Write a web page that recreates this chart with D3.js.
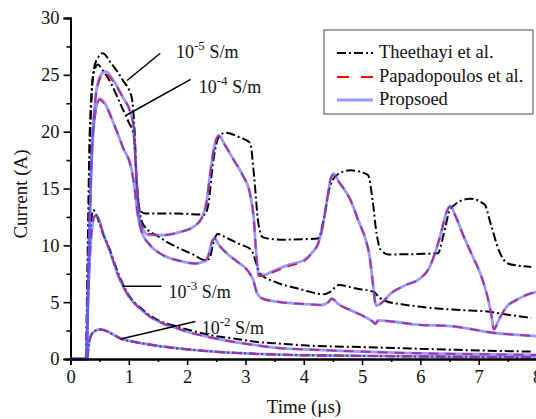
<!DOCTYPE html>
<html><head><meta charset="utf-8">
<script src="https://cdn.jsdelivr.net/npm/d3@7/dist/d3.min.js"></script>
<style>body{margin:0;background:#fff}svg{display:block}svg text{font-family:"Liberation Serif","Times New Roman",Times,serif !important;fill:#111}</style>
</head><body><svg id="c" width="536" height="419" font-family="Liberation Serif"></svg>
<script>
// ---- data (time in µs, current in A) ----
const xTicks = [0,1,2,3,4,5,6,7,8];
const yTicks = [0,5,10,15,20,25,30];
const seriesNames = ["Theethayi et al.", "Papadopoulos et al.", "Propsoed"];

const theethayi5 = [[0,0],[0.27,0],[0.3,8],[0.34,20],[0.4,25.5],[0.48,26.6],[0.55,26.9],[0.7,26.0],[0.9,24.5],[1.05,23.0],[1.1,20],[1.14,15],[1.2,13.0],[1.3,12.8],[1.8,12.8],[2.3,12.7],[2.36,13.5],[2.45,17.5],[2.55,19.6],[2.65,19.9],[2.9,19.5],[3.08,19.0],[3.15,16],[3.22,12],[3.3,10.7],[3.6,10.5],[4.25,10.6],[4.35,12.5],[4.45,15.2],[4.6,16.3],[4.8,16.6],[5.1,16.2],[5.18,14],[5.25,11],[5.32,9.6],[5.45,9.2],[6.3,9.3],[6.4,11],[6.5,13.0],[6.65,13.8],[6.85,14.1],[7.1,13.6],[7.2,12],[7.35,9.5],[7.5,8.4],[7.7,8.2],[7.9,8.1]];
const theethayi4 = [[0,0],[0.26,0],[0.29,8],[0.33,20],[0.4,25.2],[0.47,25.9],[0.55,25.4],[0.7,24.2],[0.85,22.5],[1.0,20.8],[1.08,19.8],[1.13,16],[1.18,13.2],[1.25,11.8],[1.5,10.8],[1.8,9.9],[2.1,9.2],[2.3,8.7],[2.38,8.8],[2.45,10.2],[2.52,11.0],[2.7,10.6],[2.9,10.1],[3.1,9.6],[3.18,8.5],[3.25,7.5],[3.5,6.8],[3.9,6.2],[4.35,5.7],[4.45,5.9],[4.6,6.5],[4.9,6.2],[5.2,5.9],[5.3,5.4],[5.4,5.1],[5.7,4.8],[6.0,4.6],[6.4,4.4],[6.7,4.3],[7.1,4.2],[7.5,3.9],[7.9,3.6]];
const theethayi3 = [[0,0],[0.27,0],[0.3,5],[0.34,11],[0.39,13.1],[0.45,12.6],[0.55,11.1],[0.66,9.8],[0.83,7.4],[1.0,5.6],[1.2,4.5],[1.4,3.7],[1.6,3.2],[1.8,2.9],[2.0,2.6],[2.4,2.1],[2.8,1.8],[3.2,1.5],[3.6,1.35],[4.0,1.2],[5.0,1.05],[6.0,0.9],[7.0,0.75],[7.9,0.65]];
const theethayi2 = [[0,0],[0.28,0],[0.32,1.5],[0.38,2.3],[0.5,2.6],[0.6,2.5],[0.75,2.1],[0.86,1.8],[1.1,1.5],[1.5,1.15],[2.0,0.85],[2.6,0.6],[3.2,0.45],[3.6,0.38],[4.5,0.3],[5.5,0.25],[6.5,0.2],[7.5,0.17],[7.9,0.15]];

const papadopoulos5 = [[0,0],[0.27,0],[0.3,6],[0.35,16],[0.42,22.5],[0.5,24.6],[0.57,25.1],[0.75,24.3],[0.9,23.0],[1.02,21.8],[1.08,20.5],[1.12,17],[1.17,13],[1.22,11.7],[1.35,11.0],[1.6,10.9],[1.9,11.2],[2.1,11.6],[2.25,12.4],[2.33,13.7],[2.4,16.5],[2.47,18.8],[2.54,19.6],[2.65,18.8],[2.8,17.5],[2.95,16.2],[3.08,14.5],[3.14,12.5],[3.19,9],[3.23,7.3],[3.3,7.3],[3.5,7.7],[3.75,8.2],[4.0,8.6],[4.15,9.4],[4.25,10.2],[4.33,11.8],[4.4,14],[4.46,15.8],[4.51,16.2],[4.6,15.6],[4.8,14],[4.95,12],[5.05,10.7],[5.13,9],[5.19,6.5],[5.24,4.7],[5.3,4.8],[5.5,5.8],[5.75,6.5],[6.0,7.1],[6.15,8.0],[6.25,9.3],[6.35,11.0],[6.44,12.8],[6.51,13.4],[6.6,12.6],[6.75,10.7],[6.9,9.0],[7.05,7.2],[7.15,5.5],[7.22,3.8],[7.26,2.6],[7.35,3.5],[7.48,4.6],[7.65,5.2],[7.85,5.7],[8.0,5.9]];
const papadopoulos4 = [[0,0],[0.27,0],[0.3,6],[0.35,16],[0.42,21.4],[0.5,22.8],[0.6,22.3],[0.75,20.6],[0.9,18.6],[1.05,16.6],[1.1,15],[1.15,12.8],[1.22,11.2],[1.35,10.1],[1.6,9.1],[1.9,8.6],[2.15,8.4],[2.3,8.6],[2.36,9.0],[2.42,10.2],[2.47,10.6],[2.55,10.0],[2.7,9.2],[2.85,8.6],[3.05,7.7],[3.13,7.0],[3.2,5.8],[3.3,5.3],[3.6,5.0],[3.95,4.85],[4.3,4.75],[4.42,5.0],[4.48,5.3],[4.6,4.8],[4.8,4.3],[5.05,3.7],[5.18,3.3],[5.23,3.1],[5.28,3.4],[5.5,3.3],[6.0,3.0],[6.5,2.9],[6.9,2.6],[7.25,2.3],[7.6,2.15],[8.0,2.0]];
const papadopoulos3 = [[0,0],[0.27,0],[0.3,5],[0.35,10.5],[0.42,12.6],[0.47,12.5],[0.55,11.2],[0.66,9.7],[0.83,7.2],[1.0,5.5],[1.2,4.4],[1.4,3.6],[1.6,3.1],[1.8,2.75],[2.0,2.4],[2.4,1.9],[2.8,1.5],[3.2,1.2],[3.6,0.95],[4.0,0.85],[5.0,0.65],[6.0,0.5],[7.0,0.42],[8.0,0.35]];
const papadopoulos2 = [[0,0],[0.28,0],[0.32,1.5],[0.38,2.3],[0.5,2.6],[0.6,2.5],[0.75,2.1],[0.86,1.8],[1.1,1.5],[1.5,1.15],[2.0,0.85],[2.6,0.6],[3.2,0.45],[3.6,0.38],[4.5,0.3],[5.5,0.25],[6.5,0.2],[7.5,0.17],[8,0.15]];

const proposed5 = [[0,0],[0.27,0],[0.3,6],[0.35,16],[0.42,22.5],[0.5,24.8],[0.6,25.3],[0.75,24.4],[0.9,23.0],[1.02,21.8],[1.08,20.5],[1.12,17],[1.17,13],[1.22,11.6],[1.35,10.9],[1.6,10.9],[1.9,11.2],[2.1,11.6],[2.25,12.4],[2.33,13.7],[2.4,16.5],[2.47,18.8],[2.54,19.7],[2.65,18.8],[2.8,17.5],[2.95,16.2],[3.08,14.5],[3.14,12.5],[3.19,9],[3.23,7.4],[3.3,7.4],[3.5,7.8],[3.75,8.3],[4.0,8.7],[4.15,9.4],[4.25,10.2],[4.33,11.8],[4.4,14],[4.46,15.8],[4.51,16.3],[4.6,15.6],[4.8,14],[4.95,12],[5.05,10.7],[5.13,9],[5.19,6.5],[5.24,4.7],[5.3,4.8],[5.5,5.8],[5.75,6.5],[6.0,7.1],[6.15,8.0],[6.25,9.3],[6.35,11.0],[6.44,12.8],[6.51,13.5],[6.6,12.6],[6.75,10.7],[6.9,9.0],[7.05,7.2],[7.15,5.5],[7.22,3.8],[7.26,2.6],[7.35,3.5],[7.48,4.6],[7.65,5.2],[7.85,5.7],[8.0,5.9]];
const proposed4 = [[0,0],[0.27,0],[0.3,6],[0.35,16],[0.42,21.5],[0.5,22.9],[0.6,22.4],[0.75,20.6],[0.9,18.6],[1.05,16.6],[1.1,15],[1.15,12.8],[1.22,11.2],[1.35,10.1],[1.6,9.1],[1.9,8.6],[2.15,8.4],[2.3,8.6],[2.36,9.0],[2.42,10.2],[2.47,10.6],[2.55,10.0],[2.7,9.2],[2.85,8.6],[3.05,7.7],[3.13,7.0],[3.2,5.8],[3.3,5.3],[3.6,5.0],[3.95,4.85],[4.3,4.75],[4.42,5.0],[4.48,5.3],[4.6,4.8],[4.8,4.3],[5.05,3.7],[5.18,3.3],[5.23,3.1],[5.28,3.4],[5.5,3.3],[6.0,3.0],[6.5,2.9],[6.9,2.6],[7.25,2.3],[7.6,2.15],[8.0,2.0]];
const proposed3 = [[0,0],[0.27,0],[0.3,5],[0.35,10.5],[0.42,12.6],[0.47,12.5],[0.55,11.2],[0.66,9.7],[0.83,7.2],[1.0,5.5],[1.2,4.4],[1.4,3.6],[1.6,3.1],[1.8,2.75],[2.0,2.4],[2.4,1.9],[2.8,1.5],[3.2,1.2],[3.6,0.95],[4.0,0.85],[5.0,0.65],[6.0,0.5],[7.0,0.42],[8.0,0.35]];
const proposed2 = [[0,0],[0.28,0],[0.32,1.5],[0.38,2.3],[0.5,2.6],[0.6,2.5],[0.75,2.1],[0.86,1.8],[1.1,1.5],[1.5,1.15],[2.0,0.85],[2.6,0.6],[3.2,0.45],[3.6,0.38],[4.5,0.3],[5.5,0.25],[6.5,0.2],[7.5,0.17],[8,0.15]];

// annotation labels: exponent, line start/end and text anchor (time, current)
const annExp = ["-5","-4","-3","-2"];
const annFrom = [[0.97,24.5],[0.94,21.4],[0.89,6.4],[0.86,1.76]];
const annTo = [[1.54,26.9],[2.06,24.6],[1.56,6.4],[2.14,3.3]];
const annText = [[1.81,26.5],[2.2,23.4],[1.68,5.4],[2.25,2.2]];

// ---- drawing ----
const FF = '"Liberation Serif","Times New Roman",Times,serif';
const svg = d3.select("#c");
const x = d3.scaleLinear().domain([0,8]).range([70.5,537]);
const y = d3.scaleLinear().domain([0,30]).range([359,18]);
const font = 18.5;

const line = d3.line().x(d=>x(d[0])).y(d=>y(d[1])).curve(d3.curveMonotoneX);
const g = svg.append("g");

function draw(data, style){
  const p = g.append("path").datum(data).attr("d", line).attr("fill","none");
  for (const k in style) p.attr(k, style[k]);
}
const tStyle = {stroke:"#000","stroke-width":2,"stroke-dasharray":"9,3,2,3"};
const rStyle = {stroke:"#ff0000","stroke-width":2,"stroke-dasharray":"10,7"};
const bStyle = {stroke:"rgba(90,90,255,0.62)","stroke-width":2.8};
[theethayi5,theethayi4,theethayi3,theethayi2].forEach(d=>draw(d,tStyle));
[papadopoulos5,papadopoulos4,papadopoulos3,papadopoulos2].forEach(d=>draw(d,rStyle));
[proposed5,proposed4,proposed3,proposed2].forEach(d=>draw(d,bStyle));

// axes
const xAxis = d3.axisBottom(x).tickValues(xTicks).tickSize(6).tickPadding(5).tickFormat(d3.format("d"));
const xMinor = d3.axisBottom(x).tickValues(d3.range(0.5,8,1)).tickSize(3).tickFormat("");
const yAxis = d3.axisLeft(y).tickValues(yTicks).tickSize(7).tickPadding(4).tickFormat(d3.format("d"));
const yMinor = d3.axisLeft(y).tickValues(d3.range(2.5,30,5)).tickSize(4).tickFormat("");
[ [xMinor,"translate(0,359)"], [xAxis,"translate(0,359)"], [yMinor,"translate(70.5,0)"], [yAxis,"translate(70.5,0)"] ].forEach(([a,t])=>{
  const ax = svg.append("g").attr("transform",t).call(a).attr("font-family",FF);
  ax.selectAll(".domain").attr("stroke","#000").attr("stroke-width",2);
  ax.selectAll(".tick line").attr("stroke","#000").attr("stroke-width",1.6);
  ax.selectAll("text").attr("font-family",FF).attr("font-size",font).attr("fill","#111");
});

svg.append("text").attr("x",304).attr("y",413).attr("text-anchor","middle").attr("font-family",FF).attr("font-size",19).text("Time (\u03bcs)");
svg.append("text").attr("transform","translate(27,194) rotate(-90)").attr("text-anchor","middle").attr("font-family",FF).attr("font-size",19).text("Current (A)");

// annotations
annExp.forEach((e,i)=>{
  svg.append("line").attr("x1",x(annFrom[i][0])).attr("y1",y(annFrom[i][1])).attr("x2",x(annTo[i][0])).attr("y2",y(annTo[i][1])).attr("stroke","#000").attr("stroke-width",1.5);
  const t = svg.append("text").attr("x",x(annText[i][0])).attr("y",y(annText[i][1])).attr("font-family",FF).attr("font-size",18);
  t.append("tspan").text("10");
  t.append("tspan").attr("dy",-8).attr("font-size",13).text(e);
  t.append("tspan").attr("dy",8).text(" S/m");
});

// legend
const lg = svg.append("g");
lg.append("rect").attr("x",324).attr("y",30).attr("width",209).attr("height",84).attr("fill","#fff").attr("stroke","#666").attr("stroke-width",1.2);
const lStyles = [tStyle,rStyle,bStyle];
const lY = [53,77,100];
seriesNames.forEach((n,i)=>{
  const l = lg.append("line").attr("x1",337).attr("x2",373).attr("y1",lY[i]).attr("y2",lY[i]);
  for (const k in lStyles[i]) l.attr(k, lStyles[i][k]);
  if (i===1) l.attr("stroke-dasharray","12,12");
  lg.append("text").attr("x",379).attr("y",lY[i]+5).attr("font-family",FF).attr("font-size",font).text(n);
});
</script></body></html>
